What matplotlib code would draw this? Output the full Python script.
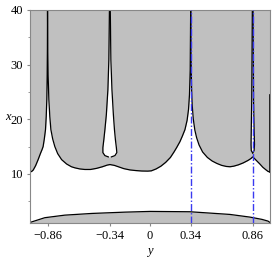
import numpy as np
import matplotlib.pyplot as plt
from matplotlib.ticker import MultipleLocator

# upper boundary of the lower white band (gray above it, spikes at -0.86 and 0.34)
curve_y = [-1.007, -0.995, -0.98, -0.96, -0.939, -0.92, -0.905, -0.897, -0.887, -0.877,
           -0.871, -0.866, -0.863, -0.861, -0.860,
           -0.858, -0.855, -0.849, -0.841, -0.832, -0.817, -0.799, -0.775, -0.742, -0.70,
           -0.66, -0.631, -0.59, -0.547, -0.50, -0.45, -0.40, -0.36, -0.337, -0.30,
           -0.26, -0.22, -0.17, -0.12, -0.07, -0.02, 0.01, 0.05, 0.09, 0.13,
           0.17, 0.20, 0.222, 0.25, 0.27, 0.292, 0.31, 0.322, 0.330, 0.336, 0.340,
           0.343, 0.347, 0.353, 0.362, 0.375, 0.39, 0.41, 0.44, 0.48, 0.52,
           0.56, 0.60, 0.64, 0.67, 0.70, 0.74, 0.78, 0.82, 0.845, 0.860,
           0.875, 0.895, 0.92, 0.945, 0.97, 0.99, 1.005]
curve_x = [10.5, 10.4, 10.7, 11.5, 12.6, 13.7, 14.5, 15.0, 16.4, 18.1,
           20.5, 23.6, 28.0, 33.0, 40.0,
           33.0, 28.0, 23.6, 20.5, 18.1, 16.4, 15.0, 13.7, 12.6, 11.8,
           11.3, 11.1, 10.9, 10.8, 10.8, 11.0, 11.3, 11.6, 11.7, 11.55,
           11.25, 10.95, 10.72, 10.6, 10.52, 10.5, 10.55, 10.9, 11.4, 12.1,
           13.0, 14.0, 14.8, 15.9, 16.9, 18.1, 19.8, 21.8, 24.5, 29.0, 40.0,
           32.0, 26.0, 22.5, 20.0, 18.0, 16.6, 15.3, 14.0, 13.0, 12.35,
           11.9, 11.55, 11.35, 11.3, 11.4, 11.65, 12.0, 12.45, 12.8, 13.1,
           12.8, 12.35, 11.8, 11.2, 10.75, 10.42, 10.37]

# white tear-drop at y = -0.34
bub1_x = [13.10, 13.34, 13.89, 14.80, 16.26, 18.09, 20.83, 25.39, 30.87, 40.0]
bub1_left = [-0.350, -0.379, -0.396, -0.396, -0.388, -0.379, -0.367, -0.354, -0.346, -0.341]
bub1_right = [-0.325, -0.295, -0.279, -0.283, -0.291, -0.299, -0.308, -0.320, -0.329, -0.334]

# white tear-drop at y = 0.86
bub2_x = [13.83, 14.25, 15.35, 18.09, 23.57, 40.0]
bub2_left = [0.860, 0.848, 0.846, 0.848, 0.852, 0.857]
bub2_right = [0.860, 0.872, 0.875, 0.872, 0.867, 0.863]

# lower gray region
low_y = [-1.007, -0.883, -0.715, -0.488, -0.211, 0.0, 0.334, 0.669, 0.837, 0.938, 0.988, 1.005]
low_x = [1.1, 1.97, 2.44, 2.75, 2.99, 3.12, 3.06, 2.57, 2.08, 1.66, 1.35, 1.1]

edge_top = 24.5
vlines = [0.34, 0.86]
xticks = [-0.86, -0.34, 0, 0.34, 0.86]
xticklabels = ['\u22120.86', '\u22120.34', '0', '0.34', '0.86']

gray = '#c0c0c0'
plt.rcParams['font.family'] = 'Liberation Serif'

fig = plt.figure(figsize=(2.73, 2.61), dpi=100)
ax = fig.add_axes([30 / 273, 38 / 261, 240 / 273, 213 / 261])
xmin, xmax, ymin, ymax = -1.007, 1.005, 1.0, 40.0

ax.fill_between(curve_y, curve_x, ymax, color=gray, lw=0)
ax.plot(curve_y, curve_x, color='black', lw=0.9)

ax.fill_betweenx(bub1_x, bub1_left, bub1_right, color='white', lw=0)
ax.plot(bub1_left, bub1_x, color='black', lw=0.9)
ax.plot(bub1_right, bub1_x, color='black', lw=0.9)
ax.fill_betweenx(bub2_x, bub2_left, bub2_right, color='white', lw=0)
ax.plot(bub2_left, bub2_x, color='black', lw=0.9)
ax.plot(bub2_right, bub2_x, color='black', lw=0.9)

ax.fill_between(low_y, ymin, low_x, color=gray, lw=0)
ax.plot(low_y, low_x, color='black', lw=0.9)

ax.plot([curve_y[0], curve_y[0]], [curve_x[0], edge_top], color='black', lw=1.2)
ax.plot([curve_y[-1], curve_y[-1]], [curve_x[-1], edge_top], color='black', lw=1.2)

for v in vlines:
    ax.axvline(v, color='#3a3af0', lw=1.0, ls=(0, (5, 1.5, 1, 1.5)), zorder=5)

ax.set_xlim(xmin, xmax)
ax.set_ylim(ymin, ymax)
ax.set_xticks(xticks)
ax.set_xticklabels(xticklabels)
ax.set_yticks([10, 20, 30, 40])
ax.yaxis.set_minor_locator(MultipleLocator(5))
ax.tick_params(which='both', direction='out', length=2, color='#888888', labelsize=9, pad=3)
ax.tick_params(which='minor', length=1.5)
for s in ax.spines.values():
    s.set_color('#888888')
    s.set_linewidth(0.8)

ax.set_ylabel('x', rotation=0, fontsize=9, style='italic')
ax.yaxis.set_label_coords(-0.092, 0.47)
ax.set_xlabel('y', fontsize=9, style='italic')
ax.xaxis.set_label_coords(0.5, -0.105)

fig.savefig('out.png', dpi=100)
